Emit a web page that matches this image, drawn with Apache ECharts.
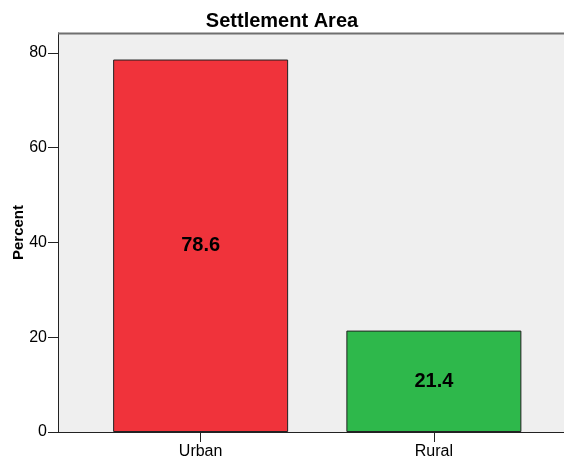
<!DOCTYPE html>
<html>
<head>
<meta charset="utf-8">
<script src="https://cdn.jsdelivr.net/npm/echarts@6/dist/echarts.min.js"></script>
<style>
html,body{margin:0;padding:0;background:#fff;}
#chart{width:564px;height:462px;}
</style>
</head>
<body>
<div id="chart"></div>
<script>
const categories = ['Urban', 'Rural'];
const percentValues = [78.6, 21.4];
const barColors = ['#F0333B', '#2EB84B'];
const yTickValues = [0, 20, 40, 60, 80];
const titleText = 'Settlement Area';
const yAxisName = 'Percent';

const FONT = '"Liberation Sans", Arial, sans-serif';
const chart = echarts.init(document.getElementById('chart'), null, {renderer: 'canvas'});

const option = {
  backgroundColor: '#ffffff',
  animation: false,
  title: {
    text: titleText,
    left: 'center',
    top: 11,
    padding: 0,
    textStyle: {fontFamily: FONT, fontSize: 20, fontWeight: 'bold', color: '#000'}
  },
  grid: {left: 84, right: 13.5, top: 33, bottom: 30, containLabel: false, outerBoundsMode: 'none'},
  graphic: [
    {
      type: 'rect', z: -10, silent: true,
      shape: {x: 58, y: 33, width: 506, height: 399},
      style: {fill: '#EFEFEF'}
    },
    {
      type: 'line', z: 10, silent: true,
      shape: {x1: 58, y1: 33.5, x2: 564, y2: 33.5},
      style: {stroke: '#6F6F6F', lineWidth: 2}
    },
    {
      type: 'line', z: 10, silent: true,
      shape: {x1: 58, y1: 432.5, x2: 564, y2: 432.5},
      style: {stroke: '#222', lineWidth: 1}
    }
  ],
  xAxis: {
    type: 'category',
    data: categories,
    boundaryGap: true,
    axisLine: {show: true, lineStyle: {color: '#222', width: 1}},
    axisTick: {show: true, alignWithLabel: true, length: 10, lineStyle: {color: '#222'}},
    axisLabel: {fontFamily: FONT, fontSize: 16, color: '#000', margin: 12},
    splitLine: {show: false}
  },
  yAxis: {
    type: 'value',
    min: 0,
    max: 84.2,
    interval: 20,
    offset: 26,
    name: yAxisName,
    nameLocation: 'middle',
    nameGap: 32,
    nameMoveOverlap: false,
    nameTextStyle: {fontFamily: FONT, fontSize: 15, fontWeight: 'bold', color: '#000'},
    axisLine: {show: true, lineStyle: {color: '#222', width: 1}},
    axisTick: {show: true, length: 10, customValues: yTickValues, lineStyle: {color: '#222'}},
    axisLabel: {fontFamily: FONT, fontSize: 16, color: '#000', margin: 11, customValues: yTickValues},
    splitLine: {show: false}
  },
  series: [{
    type: 'bar',
    barWidth: 175,
    data: percentValues.map((v, i) => ({
      value: v,
      itemStyle: {color: barColors[i], borderColor: '#222', borderWidth: 1}
    })),
    label: {
      show: true,
      position: 'inside',
      fontFamily: FONT,
      fontSize: 20,
      fontWeight: 'bold',
      color: '#000',
      formatter: p => p.value.toFixed(1)
    }
  }]
};
chart.setOption(option);
</script>
</body>
</html>
